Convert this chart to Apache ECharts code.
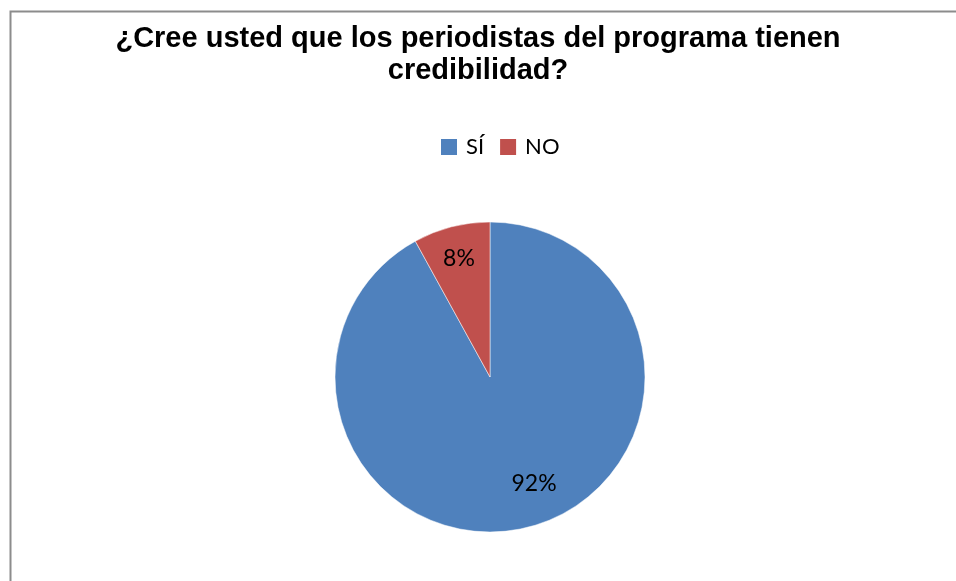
<!DOCTYPE html>
<html>
<head>
<meta charset="utf-8">
<script src="https://cdn.jsdelivr.net/npm/echarts@6/dist/echarts.min.js"></script>
<style>
  html, body { margin: 0; padding: 0; background: #fff; }
  #chart { width: 956px; height: 581px; }
</style>
</head>
<body>
<div id="chart"></div>
<script>
var titleText = '¿Cree usted que los periodistas del programa tienen\ncredibilidad?';
var categories = ['SÍ', 'NO'];
var values = [92, 8];
var colors = ['#4F81BD', '#C0504D'];

// offsets de las etiquetas (Excel las pone más cerca del borde)
var labelShift = [[24, 29], [-11, -40]];

var pieData = [];
for (var i = 0; i < categories.length; i++) {
    pieData.push({ name: categories[i], value: values[i] });
}

var myChart = echarts.init(document.getElementById('chart'));

var option = {
    backgroundColor: '#fff',
    color: colors,
    animation: false,
    title: {
        text: titleText,
        left: 'center',
        top: 18,
        textStyle: {
            fontFamily: 'Liberation Sans, Arial, sans-serif',
            fontWeight: 'bold',
            fontSize: 29,
            lineHeight: 32,
            color: '#000'
        }
    },
    legend: {
        data: categories,
        top: 131,
        left: 434,
        icon: 'rect',
        itemWidth: 18,
        itemHeight: 18,
        itemGap: 14,
        textStyle: {
            fontFamily: 'Lato, Open Sans, sans-serif',
            fontSize: 22,
            color: '#000',
            padding: [0, 0, 0, 3]
        }
    },
    graphic: [{
        type: 'rect',
        shape: { x: 10.5, y: 11.5, width: 1000, height: 1000 },
        style: { fill: 'none', stroke: '#8c8c8c', lineWidth: 2 },
        silent: true
    }],
    series: [{
        type: 'pie',
        center: [490, 377],
        radius: [0, 155],
        startAngle: 90,
        clockwise: true,
        data: pieData,
        itemStyle: { borderColor: '#fff', borderWidth: 0.5 },
        label: {
            show: true,
            position: 'inside',
            formatter: '{d}%',
            fontFamily: 'Lato, Open Sans, sans-serif',
            fontSize: 23,
            color: '#000'
        },
        labelLine: { show: false },
        labelLayout: function (params) {
            var s = labelShift[params.dataIndex];
            return { dx: s[0], dy: s[1] };
        },
        emphasis: { disabled: true }
    }]
};

myChart.setOption(option);
</script>
</body>
</html>
